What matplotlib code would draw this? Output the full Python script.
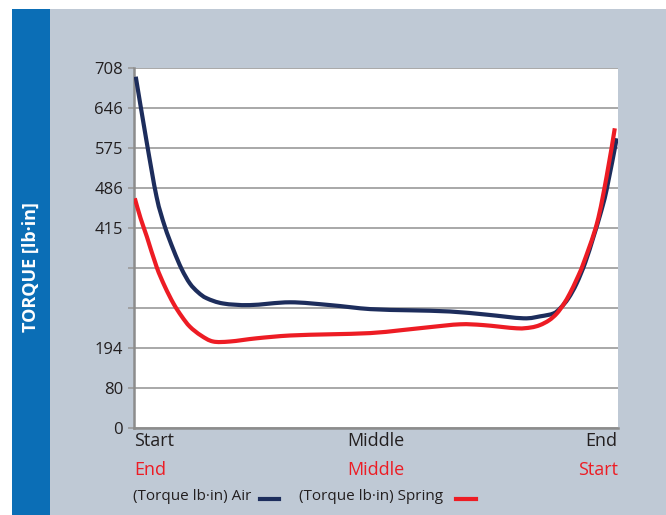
import matplotlib
matplotlib.use("Agg")
import matplotlib.pyplot as plt
from matplotlib.patches import Rectangle, PathPatch
from matplotlib.path import Path
import matplotlib.transforms as mtransforms
import numpy as np

plt.rcParams['font.family'] = ['Open Sans', 'DejaVu Sans']

# y axis is drawn on evenly spaced grid levels, labelled with torque values
y_levels = list(range(10))
y_labels = ['0', '80', '194', '', '', '415', '486', '575', '646', '708']

# position along stroke (0 = left end, 100 = right end), values in grid levels
air_x = [0.3, 2.5, 4.6, 6.3, 8.1, 9.8, 11.5, 13.2, 15.0, 18.4, 23.9, 32.2, 40.5, 48.8,
         57.0, 65.3, 73.0, 80.5, 84.0, 86.7, 88.1, 89.8, 91.5, 93.3, 95.0, 96.4, 97.7, 99.8]
air_y = [8.79, 7.2, 5.79, 5.05, 4.46, 3.98, 3.62, 3.40, 3.25, 3.12, 3.08, 3.15, 3.08, 2.98,
         2.95, 2.92, 2.84, 2.75, 2.80, 2.87, 3.0, 3.25, 3.62, 4.15, 4.79, 5.35, 5.96, 7.25]

spring_x = [0.1, 1.3, 2.6, 4.6, 6.3, 8.1, 9.8, 11.5, 13.8, 16.3, 19.8, 25.3, 32.2, 40.5,
            48.8, 55.0, 61.2, 67.4, 72.2, 79.1, 82.0, 83.9, 85.8, 87.4, 88.8, 90.1,
            91.5, 92.9, 95.7, 97.7, 99.4]
spring_y = [5.75, 5.25, 4.79, 4.04, 3.55, 3.12, 2.80, 2.54, 2.32, 2.17, 2.17, 2.25, 2.32, 2.35,
            2.38, 2.45, 2.53, 2.60, 2.58, 2.50, 2.52, 2.58, 2.70, 2.87, 3.10, 3.37,
            3.72, 4.12, 5.12, 6.29, 7.5]

x_ticks = [0, 50, 100]
x_labels_top = ['Start', 'Middle', 'End']
x_labels_bottom = ['End', 'Middle', 'Start']

navy = '#1d2d5c'
red = '#ed1c24'
bg = '#bfc9d5'
bar = '#0b6eb6'
grid_c = '#9a9a9a'
text_c = '#231f20'


def smooth_path(xs, ys):
    # cubic bezier through the points (catmull-rom style control points)
    p = np.column_stack([xs, ys]).astype(float)
    verts = [p[0]]
    codes = [Path.MOVETO]
    n = len(p)
    for i in range(n - 1):
        p0 = p[max(i - 1, 0)]
        p1 = p[i]
        p2 = p[i + 1]
        p3 = p[min(i + 2, n - 1)]
        c1 = p1 + (p2 - p0) / 6.0
        c2 = p2 - (p3 - p1) / 6.0
        verts += [c1, c2, p2]
        codes += [Path.CURVE4] * 3
    return Path(verts, codes)


fig = plt.figure(figsize=(6.66, 5.15), dpi=100, facecolor='white')
W, H = 666, 515

# background panels drawn in an axes that sits under everything
bg_ax = fig.add_axes([0, 0, 1, 1], zorder=-5)
bg_ax.set_axis_off()
bg_ax.set_xlim(0, W)
bg_ax.set_ylim(H, 0)
bg_ax.add_patch(Rectangle((50, 9), W - 50, H - 9, facecolor=bg, edgecolor='none'))
bg_ax.add_patch(Rectangle((12, 9), 38, H - 9, facecolor=bar, edgecolor='none'))
bg_ax.text(31, 267, 'TORQUE [lb·in]', rotation=90, color='white',
           fontsize=13, fontweight='bold', ha='center', va='center')

ax = fig.add_axes([134.3 / W, 1 - 428.3 / H, (617.7 - 134.3) / W, (428.3 - 68.3) / H], zorder=2)
ax.set_facecolor('white')
ax.add_patch(PathPatch(smooth_path(air_x, air_y), facecolor='none', edgecolor=navy,
                       lw=3, joinstyle='round', capstyle='butt', zorder=3))
ax.add_patch(PathPatch(smooth_path(spring_x, spring_y), facecolor='none', edgecolor=red,
                       lw=3, joinstyle='round', capstyle='butt', zorder=4))

ax.set_xlim(0, 100)
ax.set_ylim(0, 9)
ax.set_yticks(y_levels)
ax.set_yticklabels(y_labels, fontsize=12, color=text_c)
ax.grid(axis='y', color=grid_c, lw=1.2)
ax.set_axisbelow(True)
ax.tick_params(axis='y', length=4, width=1.2, color=grid_c, pad=4)
for s in ['top', 'right']:
    ax.spines[s].set_visible(False)
for s in ['left', 'bottom']:
    ax.spines[s].set_color('#8c8c8c')
    ax.spines[s].set_linewidth(1.8)

ax.set_xticks(x_ticks)
ax.set_xticklabels(x_labels_top, fontsize=13, color=text_c)
ax.tick_params(axis='x', length=0, pad=3)
for lab, ha in zip(ax.get_xticklabels(), ['left', 'center', 'right']):
    lab.set_ha(ha)

trans = mtransforms.blended_transform_factory(ax.transData, fig.transFigure)
for x, lab, ha in zip(x_ticks, x_labels_bottom, ['left', 'center', 'right']):
    ax.text(x, 1 - 470 / H, lab, transform=trans, fontsize=13, color=red,
            ha=ha, va='center')

# legend row
fig.text(133 / W, 1 - 497 / H, '(Torque lb·in) Air', fontsize=11, color=text_c,
         ha='left', va='center')
fig.add_artist(plt.Line2D([260 / W, 279 / W], [1 - 499 / H, 1 - 499 / H],
                          transform=fig.transFigure, color=navy, lw=3))
fig.text(299 / W, 1 - 497 / H, '(Torque lb·in) Spring', fontsize=11, color=text_c,
         ha='left', va='center')
fig.add_artist(plt.Line2D([456 / W, 476 / W], [1 - 499 / H, 1 - 499 / H],
                          transform=fig.transFigure, color=red, lw=3))

fig.savefig('out.png', dpi=100, facecolor=fig.get_facecolor())
